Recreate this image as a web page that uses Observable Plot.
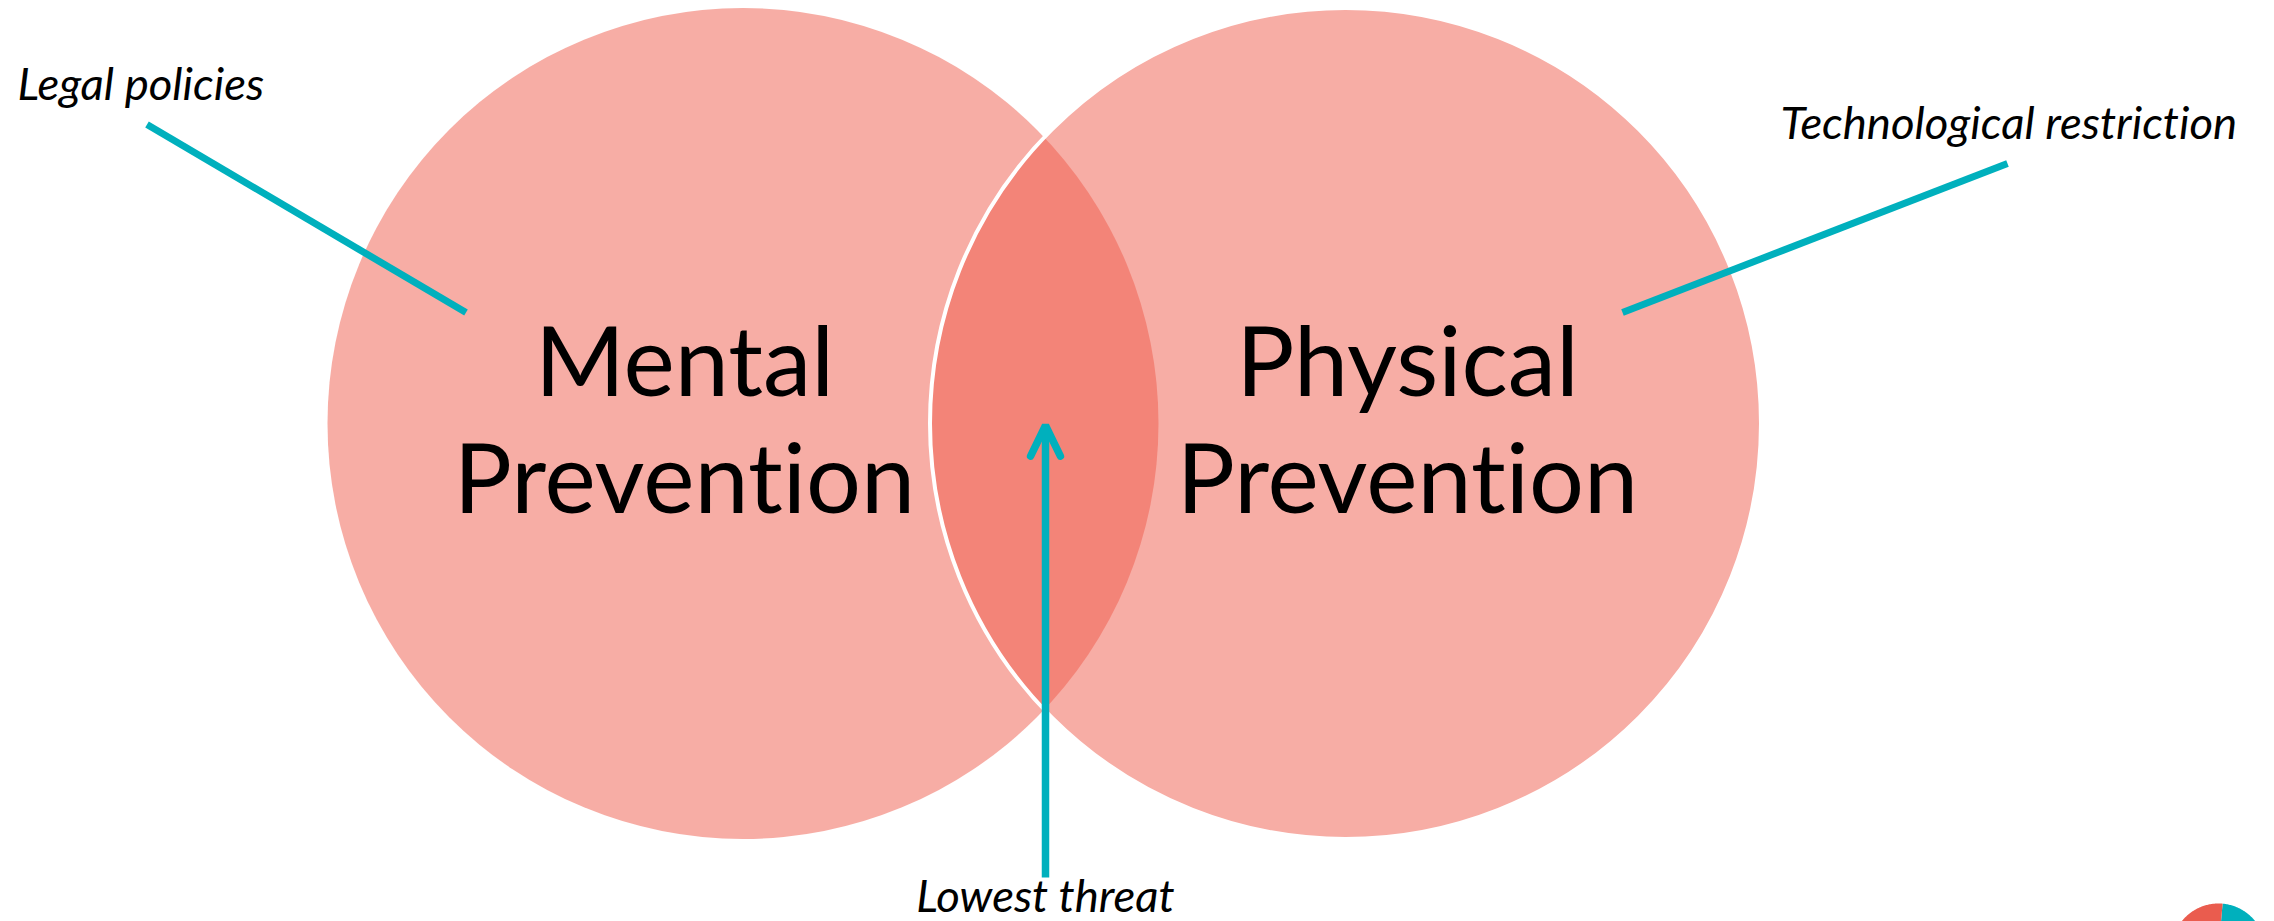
<!DOCTYPE html>
<html><head><meta charset="utf-8">
<script src="https://cdn.jsdelivr.net/npm/d3@7"></script>
<script src="https://cdn.jsdelivr.net/npm/@observablehq/plot@0.6"></script>
<style>html,body{margin:0;padding:0;background:#fff} svg text{font-variant-ligatures:none;font-feature-settings:"liga" 0,"clig" 0}</style>
</head><body><div id="chart"></div>
<script>
// ---- data ----
const setNames = ["Mental Prevention", "Physical Prevention"];
const setCx = [742.5, 1345];
const setCy = [423, 423];
const setR = [415.5, 415.5];
const setLabels = ["Mental\nPrevention", "Physical\nPrevention"];
const setLabelX = [684, 1407];
const setLabelY = [512, 512];

const calloutLabels = ["Legal policies", "Technological restriction", "Lowest threat"];
const calloutX = [17, 1780, 1045];
const calloutY = [99, 138, 911];
const calloutAnchor = ["start", "start", "middle"];

const leaderX1 = [146.5, 2007];
const leaderY1 = [124, 163];
const leaderX2 = [465.5, 1622];
const leaderY2 = [312, 312];

const arrowX = [1045];
const arrowFromY = [877];
const arrowTipY = [425];

const logoCx = [2218], logoCy = [950], logoR = [47];
const logoStartDeg = [5, 125];   // wedge start angles (clockwise from top)
const logoEndDeg = [125, 365];
const logoColors = ["#00b0bd", "#ea5c4e"];

// ---- derived tables ----
const circles = setNames.map((n, i) => ({name: n, x: setCx[i], y: setCy[i], r: setR[i]}));
const labels = setLabels.map((t, i) => ({text: t, x: setLabelX[i], y: setLabelY[i]}));
const callouts = calloutLabels.map((t, i) => ({text: t, x: calloutX[i], y: calloutY[i], anchor: calloutAnchor[i]}));
const leaders = leaderX1.map((d, i) => ({x1: leaderX1[i], y1: leaderY1[i], x2: leaderX2[i], y2: leaderY2[i]}));

const headLen = 34, headHalf = 26 * Math.PI / 180;
const arrowHead = [];
arrowX.forEach((x, i) => {
  const tip = arrowTipY[i];
  arrowHead.push({x: x - headLen * Math.sin(headHalf), y: tip + headLen * Math.cos(headHalf), k: i});
  arrowHead.push({x: x, y: tip, k: i});
  arrowHead.push({x: x + headLen * Math.sin(headHalf), y: tip + headLen * Math.cos(headHalf), k: i});
});
const shafts = arrowX.map((x, i) => ({x, y1: arrowFromY[i], y2: arrowTipY[i] + 6}));

const wedges = [];
logoStartDeg.forEach((a0, i) => {
  const a1 = logoEndDeg[i];
  wedges.push({x: logoCx[0], y: logoCy[0], k: i});
  for (let a = a0; a <= a1; a += 1) {
    const t = a * Math.PI / 180;
    wedges.push({x: logoCx[0] + logoR[0] * Math.sin(t), y: logoCy[0] - logoR[0] * Math.cos(t), k: i});
  }
});

const mainSize = 97;
const calloutMarks = ["start", "middle"].map(anchor =>
  Plot.text(callouts.filter(d => d.anchor === anchor), {x: "x", y: "y", text: "text", textAnchor: anchor, lineAnchor: "bottom",
    fontFamily: "Lato", fontStyle: "italic", fontSize: 45.5, fill: "#000"}));

const W = 2274, H = 921;
const chart = Plot.plot({
  width: W, height: H,
  margin: 0,
  x: {domain: [0, W], range: [0, W], axis: null},
  y: {domain: [0, H], range: [0, H], axis: null},
  r: {type: "identity"},
  style: {background: "#fff"},
  marks: [
    Plot.dot(circles, {x: "x", y: "y", r: "r", fill: "#ef5b4b", fillOpacity: 0.5, stroke: "none"}),
    Plot.dot(circles.slice(1), {x: "x", y: "y", r: "r", fill: "none", stroke: "#fff", strokeWidth: 4}),
    Plot.text(labels, {x: "x", y: "y", text: "text", lineAnchor: "bottom", lineHeight: 117 / mainSize,
      fontFamily: "Lato", fontSize: mainSize, fill: "#000", textAnchor: "middle"}),
    Plot.link(leaders, {x1: "x1", y1: "y1", x2: "x2", y2: "y2", stroke: "#00b0bd", strokeWidth: 7, strokeLinecap: "butt"}),
    Plot.link(shafts, {x1: "x", y1: "y1", x2: "x", y2: "y2", stroke: "#00b0bd", strokeWidth: 7.5, strokeLinecap: "butt"}),
    Plot.line(arrowHead, {x: "x", y: "y", z: "k", stroke: "#00b0bd", strokeWidth: 7.5, strokeLinecap: "round", strokeLinejoin: "miter"}),
    ...calloutMarks,
    Plot.line(wedges, {x: "x", y: "y", z: "k", fill: d => logoColors[d.k], stroke: "none", curve: "linear-closed"})
  ]
});
document.getElementById("chart").appendChild(chart);
</script>
</body></html>
